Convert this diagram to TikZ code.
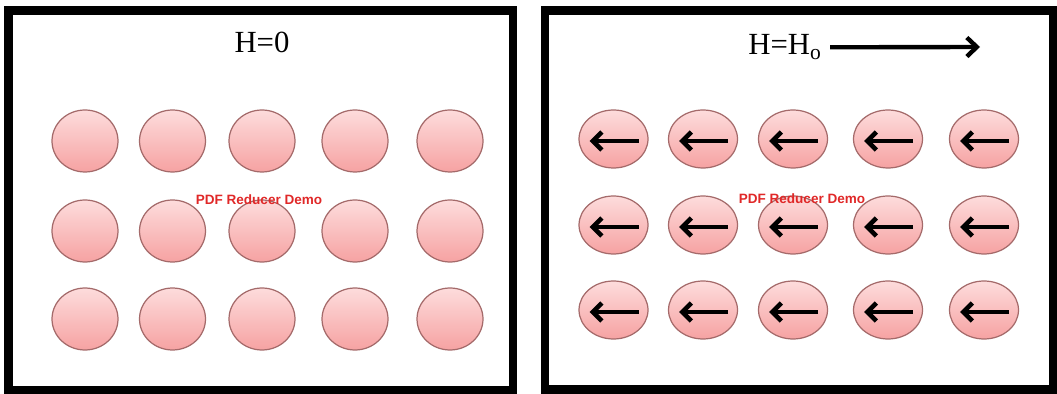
\documentclass[tikz,border=0pt]{standalone}
\usepackage{fontspec}
\setmainfont{Liberation Serif}
\setsansfont{Liberation Sans}
\usepackage{xcolor}
\definecolor{magtop}{HTML}{FDDCDC}
\definecolor{magbot}{HTML}{F6A2A2}
\definecolor{magedge}{HTML}{A46A6A}
\definecolor{magred}{HTML}{E02828}
\usepackage{tikz}
\usetikzlibrary{arrows.meta,positioning,shapes.geometric,calc}
\tikzset{
  magframe/.style={draw=black,line width=5.1pt},
  magball/.style={ellipse,draw=magedge,line width=0.7pt,top color=magtop,bottom color=magbot,inner sep=0pt},
  magspin/.style={-{Straight Barb[length=1.8mm,width=3.6mm]},line width=2.7pt},
  magfield/.style={-{Straight Barb[length=2mm,width=3.8mm]},line width=2.5pt},
  maglabel/.style={font=\fontsize{17.5}{20}\selectfont,inner sep=0pt},
  magwm/.style={font=\sffamily\bfseries\fontsize{7.7}{9}\selectfont,text=magred,inner sep=0pt},
}

\begin{document}
\begin{tikzpicture}[x=0.02cm,y=-0.02cm]
\useasboundingbox (0,0) rectangle (1057,394);
  % left panel: no field
\draw[magframe] (8.5,10.5) rectangle (513,390.5);
\node[maglabel,anchor=base] (hzero) at (262,53) {H=0};
\foreach \c/\x in {1/85,2/172.5,3/262,4/355,5/450}
  \foreach \r/\y in {1/141,2/231,3/319}
    \node[magball,minimum width=1.32cm,minimum height=1.24cm] (l\r\c) at (\x,\y) {};
\node[magwm] (lwm) at (259,200) {PDF Reducer Demo};
  % right panel: field applied, spins aligned
\draw[magframe] (545,10.5) rectangle (1053.5,389.5);
\node[maglabel,anchor=base west] (hfield) at (748,55) {H=H\textsubscript{o}};
\coordinate (fieldtip) at (980,47);
\draw[magfield,shorten <=1.6mm] (hfield.east) -- (fieldtip);
\foreach \c/\x in {1/613.5,2/703,3/793,4/888,5/984}
  \foreach \r/\y in {1/139,2/225,3/310}{
    \node[magball,minimum width=1.38cm,minimum height=1.16cm] (r\r\c) at (\x,\y) {};
    \draw[magspin] ($(r\r\c)+(25,2)$) -- ($(r\r\c)+(-24,2)$);
  }
\node[magwm] (rwm) at (802,199) {PDF Reducer Demo};
\end{tikzpicture}
\end{document}
